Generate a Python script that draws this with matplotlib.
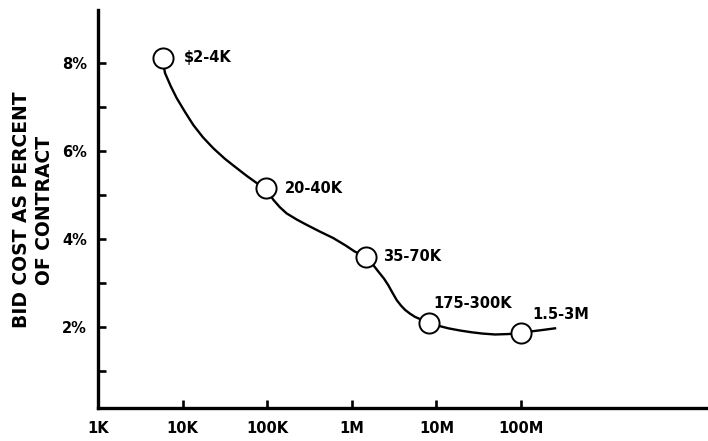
import matplotlib
matplotlib.use("Agg")
import matplotlib.pyplot as plt
import numpy as np

# contract size (dollars) and bid cost (% of contract) at each marked point
contract_size = [5.8e3, 9.7e4, 1.47e6, 8.2e6, 1.0e8]
bid_cost_pct = [8.11, 5.15, 3.60, 2.10, 1.86]
point_labels = ["\\$2-4K", "20-40K", "35-70K", "175-300K", "1.5-3M"]

# hand-drawn curve (log10 of contract size, percent)
curve_log10_size = [3.760, 3.792, 3.860, 3.930, 4.030, 4.126, 4.240, 4.363,
                    4.500, 4.639, 4.760, 4.876, 4.986, 5.072, 5.150, 5.230,
                    5.350, 5.467, 5.620, 5.781, 5.920, 6.038, 6.168, 6.240,
                    6.313, 6.380, 6.431, 6.480, 6.531, 6.580, 6.629, 6.690,
                    6.747, 6.830, 6.913, 7.020, 7.141, 7.280, 7.417, 7.550,
                    7.693, 7.850, 8.000, 8.120, 8.245, 8.402]
curve_pct = [8.11, 7.77, 7.47, 7.20, 6.88, 6.59, 6.31, 6.06,
             5.82, 5.61, 5.43, 5.27, 5.15, 4.89, 4.72, 4.58,
             4.44, 4.32, 4.17, 4.02, 3.86, 3.71, 3.60, 3.44,
             3.26, 3.10, 2.95, 2.78, 2.61, 2.49, 2.39, 2.30,
             2.23, 2.16, 2.10, 2.03, 1.97, 1.92, 1.88, 1.85,
             1.83, 1.84, 1.86, 1.90, 1.93, 1.97]

x_ticks = [1e3, 1e4, 1e5, 1e6, 1e7, 1e8]
x_tick_labels = ["1K", "10K", "100K", "1M", "10M", "100M"]
y_ticks = [1, 2, 3, 4, 5, 6, 7, 8]
y_tick_labels = ["", "2%", "", "4%", "", "6%", "", "8%"]

fig = plt.figure(figsize=(7.08, 4.41), dpi=100)
ax = fig.add_axes([0.1384, 0.0748, 0.8616, 0.9025])

ax.plot(10 ** np.array(curve_log10_size), curve_pct, color="black", lw=1.7,
        zorder=2, solid_joinstyle="round")
ax.plot(contract_size, bid_cost_pct, "o", ms=14.5, mfc="white", mec="black", mew=1.4, zorder=3)

# label offsets in pixels
offsets = [(21, 0), (19, 0), (17, 0), (4, 19), (11, 19)]
for x, y, lab, off in zip(contract_size, bid_cost_pct, point_labels, offsets):
    ax.annotate(lab, (x, y), xytext=off, textcoords="offset pixels",
                ha="left", va="center", fontsize=10.5, fontweight="heavy")

ax.set_xscale("log")
ax.set_xlim(1e3, 10 ** 10.21)
ax.set_ylim(0.16, 9.2)
ax.set_xticks(x_ticks)
ax.set_xticklabels(x_tick_labels)
ax.xaxis.set_minor_locator(matplotlib.ticker.NullLocator())
ax.set_yticks(y_ticks)
ax.set_yticklabels(y_tick_labels)

for s in ["top", "right"]:
    ax.spines[s].set_visible(False)
for s in ["left", "bottom"]:
    ax.spines[s].set_linewidth(2.4)

ax.tick_params(axis="both", direction="in", length=5.5, width=1.9, labelsize=10.5)
ax.tick_params(axis="x", pad=9)
ax.tick_params(axis="y", pad=8)
for t in ax.get_xticklabels() + ax.get_yticklabels():
    t.set_fontweight("heavy")

fig.text(21.5 / 708, 1 - 210 / 441, "BID COST AS PERCENT", rotation=90,
         ha="center", va="center", fontsize=13.5, fontweight="heavy")
fig.text(45 / 708, 1 - 210 / 441, "OF CONTRACT", rotation=90,
         ha="center", va="center", fontsize=13.5, fontweight="heavy")

fig.savefig("out.png", dpi=100)
